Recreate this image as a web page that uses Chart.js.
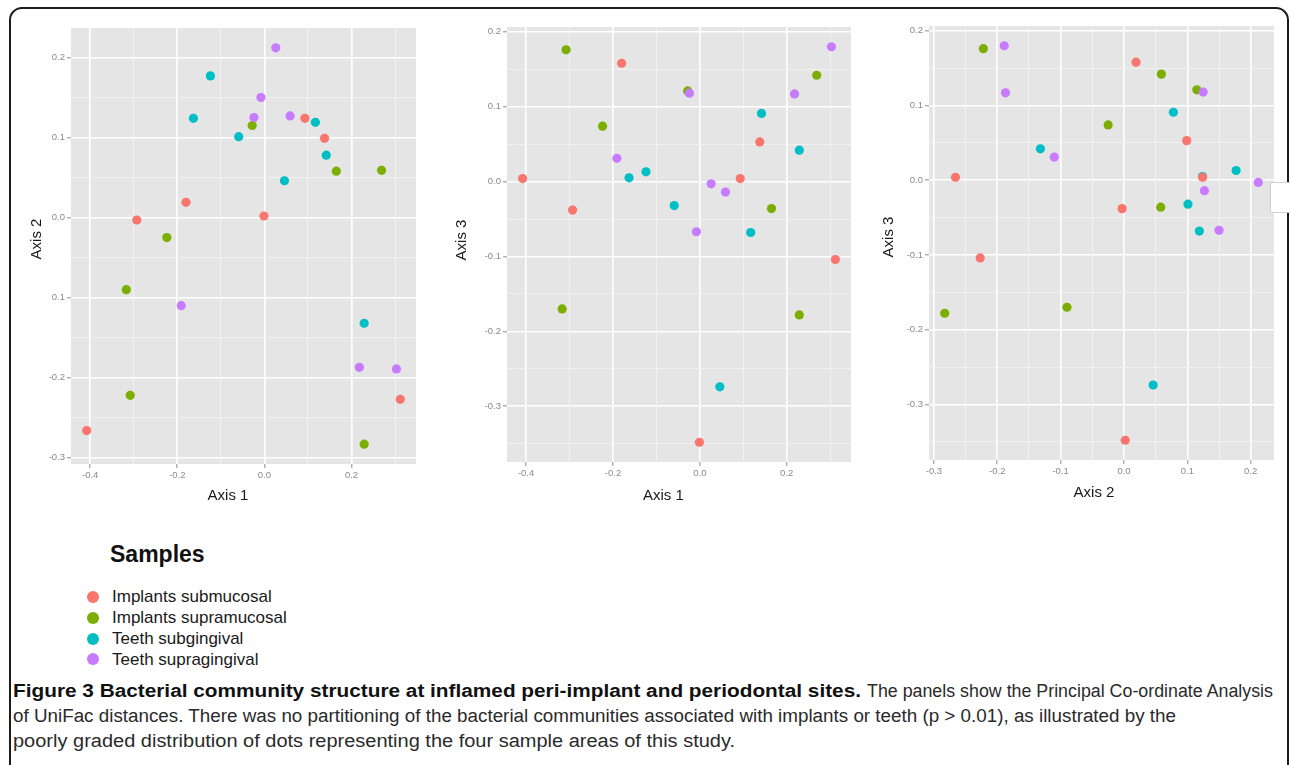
<!DOCTYPE html>
<html>
<head>
<meta charset="utf-8">
<script src="https://cdn.jsdelivr.net/npm/chart.js@4.4.1/dist/chart.umd.min.js"></script>
<style>
html,body{margin:0;padding:0;background:#fff;width:1290px;height:765px;overflow:hidden;font-family:"Liberation Sans",Arial,sans-serif;}
#frame{position:absolute;left:9px;top:7px;width:1280px;height:800px;border:2px solid #1c1c1c;border-radius:13px;box-sizing:border-box;}
canvas{position:absolute;}
#legendTitle{position:absolute;left:110px;top:540px;font-weight:bold;font-size:23px;line-height:28px;color:#111;white-space:nowrap;}
.li{position:absolute;left:112px;font-size:17px;line-height:21px;color:#1a1a1a;white-space:nowrap;}
.dot{position:absolute;width:12px;height:12px;border-radius:50%;}
.cap{position:absolute;font-family:"Liberation Sans",Arial,sans-serif;font-size:18px;line-height:25px;white-space:nowrap;color:#2a2a2a;transform-origin:0 0;}
.cap.b{font-weight:bold;color:#111;}
#stub{position:absolute;left:1270px;top:182px;width:30px;height:31px;background:#fff;border:1px solid #cfcfcf;box-sizing:border-box;}
</style>
</head>
<body>
<div id="frame"></div>
<canvas id="c1" width="415" height="496" style="left:11px;top:18px;"></canvas>
<canvas id="c2" width="414" height="495" style="left:447px;top:17px;"></canvas>
<canvas id="c3" width="415" height="494" style="left:869px;top:16px;"></canvas>
<div id="stub"></div>
<div id="legendTitle">Samples</div>
<div id="legend"></div>
<div id="caption"></div>
<script>
// ---- groups ----
const groupNames = ['Implants submucosal', 'Implants supramucosal', 'Teeth subgingival', 'Teeth supragingival'];
const groupColors = ['#F8766D', '#7CAE00', '#00BFC4', '#C77CFF'];

// ---- PCoA coordinates ----
const submucosalAxis1 = [0.093, 0.138, -0.180, -0.293, -0.001, 0.312, -0.408];
const submucosalAxis2 = [0.124, 0.099, 0.019, -0.003, 0.002, -0.227, -0.266];
const submucosalAxis3 = [0.004, 0.053, 0.158, -0.038, -0.348, -0.104, 0.004];

const supramucosalAxis1 = [-0.028, 0.165, 0.269, -0.224, -0.317, -0.308, 0.229];
const supramucosalAxis2 = [0.115, 0.058, 0.059, -0.025, -0.090, -0.222, -0.283];
const supramucosalAxis3 = [0.121, -0.036, 0.142, 0.074, -0.170, 0.176, -0.178];

const subgingivalAxis1 = [-0.124, -0.163, 0.117, -0.059, 0.142, 0.046, 0.229];
const subgingivalAxis2 = [0.177, 0.124, 0.119, 0.101, 0.078, 0.046, -0.132];
const subgingivalAxis3 = [0.013, 0.005, -0.068, -0.032, 0.091, -0.274, 0.042];

const supragingivalAxis1 = [0.026, -0.008, -0.024, 0.059, -0.191, 0.218, 0.303];
const supragingivalAxis2 = [0.212, 0.150, 0.125, 0.127, -0.110, -0.187, -0.189];
const supragingivalAxis3 = [-0.003, -0.067, 0.118, -0.014, 0.031, 0.117, 0.180];

// ---- axis ticks / labels / limits ----
const axis1Ticks = [-0.4, -0.3, -0.2, -0.1, 0, 0.1, 0.2, 0.3];
const axis1Labels = ['-0.4', '', '-0.2', '', '0.0', '', '0.2', ''];
const axis2Ticks = [-0.3, -0.25, -0.2, -0.15, -0.1, -0.05, 0, 0.05, 0.1, 0.15, 0.2];
const axis2LabelsPanel1 = ['-0.3', '', '-0.2', '', '0.1', '', '0.0', '', '0.1', '', '0.2'];
const axis2Labels = ['-0.3', '', '-0.2', '', '-0.1', '', '0.0', '', '0.1', '', '0.2'];
const axis3Ticks = [-0.35, -0.3, -0.25, -0.2, -0.15, -0.1, -0.05, 0, 0.05, 0.1, 0.15, 0.2];
const axis3Labels = ['', '-0.3', '', '-0.2', '', '-0.1', '', '0.0', '', '0.1', '', '0.2'];
const axis1Range = [-0.444, 0.348];
const axis2Range = [-0.3078, 0.2368];
const axis3Range = [-0.3744, 0.2064];

const captionBold = 'Figure 3 Bacterial community structure at inflamed peri-implant and periodontal sites.';
const captionLine1 = 'The panels show the Principal Co-ordinate Analysis';
const captionLine2 = 'of UniFac distances. There was no partitioning of the bacterial communities associated with implants or teeth (p > 0.01), as illustrated by the';
const captionLine3 = 'poorly graded distribution of dots representing the four sample areas of this study.';

// ---- helpers ----
const groupAxes = [
  [submucosalAxis1, submucosalAxis2, submucosalAxis3],
  [supramucosalAxis1, supramucosalAxis2, supramucosalAxis3],
  [subgingivalAxis1, subgingivalAxis2, subgingivalAxis3],
  [supragingivalAxis1, supragingivalAxis2, supragingivalAxis3]
];
const drawOrder = [0, 3, 2, 1];

const panelBg = {
  id: 'panelBg',
  beforeDraw(chart) {
    const a = chart.chartArea, ctx = chart.ctx;
    ctx.save();
    ctx.fillStyle = '#E5E5E5';
    ctx.fillRect(a.left, a.top, a.right - a.left, a.bottom - a.top);
    ctx.restore();
  }
};
const axisTitles = {
  id: 'axisTitles',
  afterDraw(chart, args, o) {
    const a = chart.chartArea, ctx = chart.ctx;
    ctx.save();
    ctx.fillStyle = '#1a1a1a';
    ctx.font = '15px "Liberation Sans", Arial, sans-serif';
    ctx.textAlign = 'center';
    ctx.textBaseline = 'middle';
    ctx.fillText(o.x.text, (a.left + a.right) / 2 + o.x.dx, a.bottom + o.x.dy);
    ctx.translate(a.left + o.y.dx, (a.top + a.bottom) / 2 + o.y.dy);
    ctx.rotate(-Math.PI / 2);
    ctx.fillText(o.y.text, 0, 0);
    ctx.restore();
  }
};

function scaleCfg(ticks, labels, range, isX, pad) {
  return {
    type: 'linear', min: range[0], max: range[1],
    afterBuildTicks: s => { s.ticks = ticks.map(v => ({ value: v })); },
    afterFit: s => { if (isX) s.height = 50; else s.width = 60; },
    border: { display: false },
    grid: {
      color: c => labels[c.index] ? '#FFFFFF' : '#F2F2F2',
      lineWidth: c => labels[c.index] ? 1.6 : 0.9,
      drawTicks: true, tickLength: 4, tickWidth: 1,
      tickColor: c => labels[c.index] ? '#8c8c8c' : 'rgba(0,0,0,0)'
    },
    ticks: {
      autoSkip: false, maxRotation: 0, minRotation: 0, padding: pad,
      color: '#8a8a8a', font: { family: '"Liberation Sans", Arial', size: 9.5 },
      callback: (v, i) => labels[i]
    }
  };
}

function makePanel(id, xi, yi, xT, xL, xR, yT, yL, yR, titles) {
  const datasets = groupNames.map((name, g) => ({
    label: name,
    data: groupAxes[g][xi].map((v, k) => ({ x: v, y: groupAxes[g][yi][k] })),
    backgroundColor: groupColors[g],
    borderWidth: 0,
    pointRadius: 4.6,
    pointHoverRadius: 4.6,
    order: drawOrder[g]
  }));
  new Chart(document.getElementById(id), {
    type: 'scatter',
    data: { datasets },
    options: {
      responsive: false, animation: false, events: [],
      layout: { padding: { left: 0, right: 10, top: 10, bottom: 0 } },
      plugins: { legend: { display: false }, tooltip: { enabled: false }, axisTitles: titles },
      scales: {
        x: scaleCfg(xT, xL, xR, true, 1.5),
        y: scaleCfg(yT, yL, yR, false, 2)
      }
    },
    plugins: [panelBg, axisTitles]
  });
}

makePanel('c1', 0, 1, axis1Ticks, axis1Labels, axis1Range, axis2Ticks, axis2LabelsPanel1, axis2Range,
  { x: { text: 'Axis 1', dx: -15.5, dy: 31.5 }, y: { text: 'Axis 2', dx: -34.3, dy: -7 } });
makePanel('c2', 0, 2, axis1Ticks, axis1Labels, axis1Range, axis3Ticks, axis3Labels, axis3Range,
  { x: { text: 'Axis 1', dx: -15.7, dy: 34 }, y: { text: 'Axis 3', dx: -45, dy: -4.5 } });
makePanel('c3', 1, 2, axis2Ticks, axis2Labels, axis2Range, axis3Ticks, axis3Labels, axis3Range,
  { x: { text: 'Axis 2', dx: -7.5, dy: 32.7 }, y: { text: 'Axis 3', dx: -40, dy: -6 } });

// ---- legend ----
const legend = document.getElementById('legend');
groupNames.forEach((name, g) => {
  const top = 586 + g * 20.9;
  const d = document.createElement('div');
  d.className = 'dot';
  d.style.background = groupColors[g];
  d.style.left = '87.3px';
  d.style.top = (top + 4.7) + 'px';
  legend.appendChild(d);
  const t = document.createElement('div');
  t.className = 'li';
  t.style.top = top + 'px';
  t.textContent = name;
  legend.appendChild(t);
});

// ---- caption (each line condensed to the width it has in the figure) ----
const cap = document.getElementById('caption');
function capLine(text, left, top, width, bold) {
  const s = document.createElement('div');
  s.className = 'cap' + (bold ? ' b' : '');
  s.style.left = left + 'px';
  s.style.top = top + 'px';
  s.textContent = text;
  cap.appendChild(s);
  const w = s.getBoundingClientRect().width;
  s.style.transform = 'scaleX(' + (width / w) + ')';
}
capLine(captionBold, 13, 679, 848, true);
capLine(captionLine1, 867, 679, 406, false);
capLine(captionLine2, 13, 704, 1163, false);
capLine(captionLine3, 13, 729, 722, false);
</script>
</body>
</html>
